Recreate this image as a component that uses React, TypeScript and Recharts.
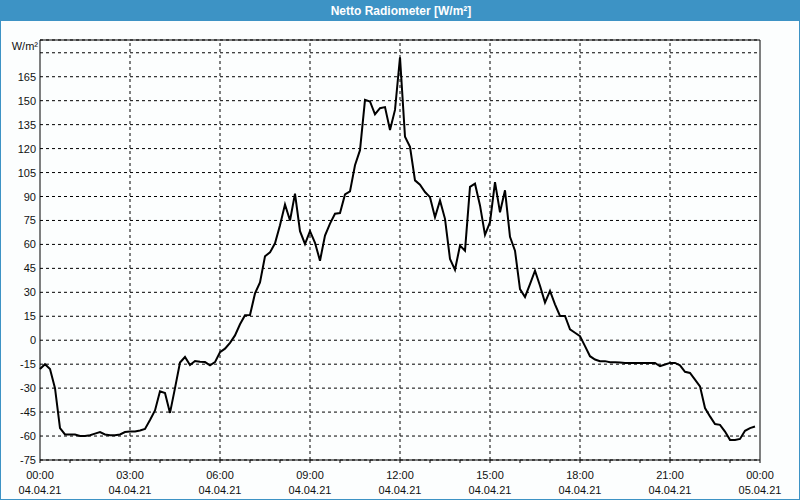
import React from 'react';
import { LineChart, Line, XAxis, YAxis, CartesianGrid, ReferenceLine } from 'recharts';

// Net radiation, 10-minute samples from 04.04.21 00:00 to 23:50 (W/m²)
const values = [
  -18, -15, -18, -30, -55, -59, -59, -59, -60, -60,
  -59.5, -58.5, -57.5, -59, -59.5, -59.5, -59, -57.5, -57.2, -57.2,
  -56.5, -55.6, -50, -44, -32, -33, -45.5, -30, -14, -10.5,
  -15.5, -13, -13.5, -13.7, -15.7, -13.7, -7.5, -5.3, -1.6, 3,
  10, 15.6, 15.8, 29.3, 36.2, 52.6, 55, 60.7, 72, 85,
  75, 91.8, 68.3, 60.3, 68.3, 61, 49.8, 65.5, 73, 79.2,
  79.6, 91.3, 93.2, 109.6, 119, 150.5, 149.5, 141.5, 145.3, 146,
  131.6, 144.2, 177.2, 127.4, 121.1, 100.1, 97.4, 92.8, 89.6, 77,
  87.5, 76, 50.9, 44.1, 59.3, 56.1, 96, 98, 84.4, 66,
  73.9, 99, 80.1, 93.9, 64.8, 56.1, 32, 27.1, 35.1, 43.5,
  34.1, 23.6, 30.9, 22.5, 15.2, 15.2, 6.8, 4.7, 2.6, -3.7,
  -10, -12.1, -13.1, -13.1, -13.8, -13.8, -14, -14.2, -14.2, -14.2,
  -14.2, -14.2, -14.2, -14.2, -16.3, -15.2, -14.2, -14.2, -15.7, -19.8,
  -20.5, -24.7, -28.9, -42.5, -47.7, -52.5, -53, -57.2, -62.4, -62.4,
  -61.8, -56.7, -55, -54,
];

const yTicks = [-75, -60, -45, -30, -15, 0, 15, 30, 45, 60, 75, 90, 105, 120, 135, 150, 165, 180];
const xTicks = [0, 60, 120, 180, 240, 300, 360, 420, 480, 540, 600, 660, 720, 780, 840, 900, 960, 1020, 1080, 1140, 1200, 1260, 1320, 1380, 1440];
const majorMinutes = [180, 360, 540, 720, 900, 1080, 1260];
const timeLabels = ['00:00', '03:00', '06:00', '09:00', '12:00', '15:00', '18:00', '21:00', '00:00'];
const dateLabels = ['04.04.21', '04.04.21', '04.04.21', '04.04.21', '04.04.21', '04.04.21', '04.04.21', '04.04.21', '05.04.21'];

const data = values.map((v, i) => ({ t: i * 10, v }));

const FONT = '"Liberation Sans", Arial, sans-serif';
const BLUE = '#3d93c5';

const XTick = (props: any) => {
  const { x, y, payload } = props;
  const m = payload.value;
  if (m % 180 !== 0) return <g />;
  const idx = m / 180;
  return (
    <g>
      <text x={x} y={y + 14} textAnchor="middle" fontSize={11} fontFamily={FONT} fill="#111">
        {timeLabels[idx]}
      </text>
      <text x={x} y={y + 29} textAnchor="middle" fontSize={11} fontFamily={FONT} fill="#111">
        {dateLabels[idx]}
      </text>
    </g>
  );
};

const YTick = (props: any) => {
  const { y, payload } = props;
  if (payload.value === 180) return <g />;
  return (
    <text x={36} y={y + 4} textAnchor="end" fontSize={11} fontFamily={FONT} fill="#111">
      {payload.value}
    </text>
  );
};

export default function App() {
  return (
    <div
      style={{
        position: 'absolute',
        left: 0,
        top: 0,
        width: 800,
        height: 500,
        background: '#fcfefe',
        boxSizing: 'border-box',
        border: `1px solid ${BLUE}`,
        overflow: 'hidden',
      }}
    >
      <div
        style={{
          position: 'absolute',
          left: 0,
          top: 0,
          width: 800,
          height: 20,
          background: BLUE,
          color: '#fff',
          fontFamily: FONT,
          fontWeight: 'bold',
          fontSize: 12,
          lineHeight: '20px',
          textAlign: 'center',
        }}
      >
        Netto Radiometer [W/m²]
      </div>
      <div
        style={{
          position: 'absolute',
          left: 0,
          top: 39,
          width: 37,
          textAlign: 'right',
          fontFamily: FONT,
          fontSize: 11,
          color: '#111',
        }}
      >
        W/m²
      </div>
      <div style={{ position: 'absolute', left: -1, top: -1 }}>
        <LineChart width={800} height={500} data={data} margin={{ top: 40, right: 40, bottom: 0, left: 0 }}>
          <CartesianGrid vertical={false} stroke="#000" strokeDasharray="3 3" />
          {majorMinutes.map((m) => (
            <ReferenceLine key={m} x={m} stroke="#000" strokeDasharray="3 3" />
          ))}
          <ReferenceLine y={188} stroke="#000" />
          <ReferenceLine x={1440} stroke="#000" />
          <XAxis
            dataKey="t"
            type="number"
            domain={[0, 1440]}
            ticks={xTicks}
            interval={0}
            height={40}
            tickSize={3}
            tickLine={{ stroke: '#000' }}
            axisLine={{ stroke: '#000' }}
            tick={<XTick />}
          />
          <YAxis
            type="number"
            domain={[-75, 188]}
            ticks={yTicks}
            interval={0}
            width={40}
            tickLine={false}
            axisLine={{ stroke: '#000' }}
            tick={<YTick />}
            allowDataOverflow
          />
          <Line
            type="linear"
            dataKey="v"
            stroke="#000"
            strokeWidth={2}
            dot={false}
            isAnimationActive={false}
          />
        </LineChart>
      </div>
    </div>
  );
}
